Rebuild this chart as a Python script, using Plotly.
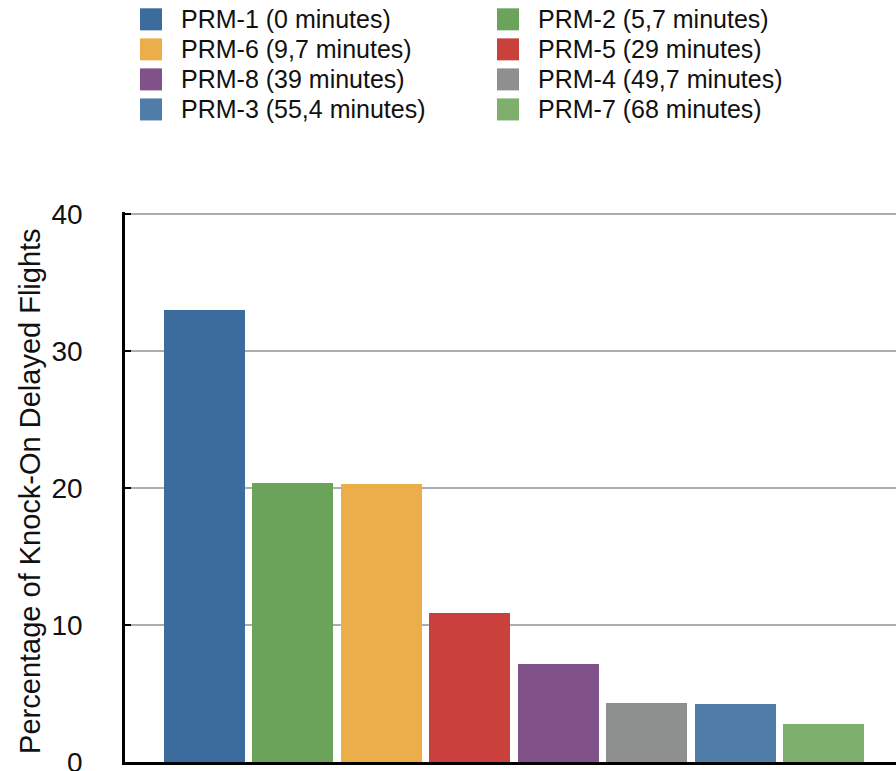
import plotly.graph_objects as go

names = ["PRM-1 (0 minutes)", "PRM-2 (5,7 minutes)", "PRM-6 (9,7 minutes)", "PRM-5 (29 minutes)",
         "PRM-8 (39 minutes)", "PRM-4 (49,7 minutes)", "PRM-3 (55,4 minutes)", "PRM-7 (68 minutes)"]
values = [33.0, 20.35, 20.3, 10.9, 7.15, 4.3, 4.22, 2.78]
colors = ["#3C6B9D", "#6BA35A", "#ECAE4B", "#C9403C", "#81518A", "#8E908F", "#507CA9", "#7FAF6D"]
yticks = [0, 10, 20, 30, 40]

W, H = 896, 771
YMAX = 40.15
PXU = 13.68
L, R, B = 125, 0, 9.2
T = 214.5 - (YMAX - 40) * PXU
pw = W - L - R
ph = H - T - B
FONT = "Liberation Sans, Arial, Helvetica, sans-serif"

fig = go.Figure()
for i, (n, v, c) in enumerate(zip(names, values, colors)):
    fig.add_trace(go.Bar(x=[i], y=[v], name=n, marker=dict(color=c, line=dict(width=0)),
                         width=0.916, showlegend=False))

# manual legend (2 columns, row-wise)
col_x = [140, 497]
row_y = [20, 50, 80, 110]
sq = 22
for i, (n, c) in enumerate(zip(names, colors)):
    cx = col_x[i % 2]
    cy = row_y[i // 2]
    x0 = (cx - L) / pw
    x1 = (cx + sq - L) / pw
    y0 = (H - B - (cy + sq / 2)) / ph
    y1 = (H - B - (cy - sq / 2)) / ph
    fig.add_shape(type="rect", xref="paper", yref="paper", x0=x0, x1=x1, y0=y0, y1=y1,
                  fillcolor=c, line=dict(width=0))
    fig.add_annotation(xref="paper", yref="paper", x=(cx + 39 - L) / pw, y=(H - B - cy) / ph,
                       text=n, showarrow=False, xanchor="left", yanchor="middle",
                       font=dict(family=FONT, size=25, color="#111"))

fig.add_annotation(xref="paper", yref="paper", x=(30 - L) / pw, y=(H - B - 491) / ph,
                   text="Percentage of Knock-On Delayed Flights", textangle=-90, showarrow=False,
                   xanchor="center", yanchor="middle", font=dict(family=FONT, size=29, color="#111"))

fig.update_layout(
    width=W, height=H,
    margin=dict(l=L, r=R, t=T, b=B, autoexpand=False),
    paper_bgcolor="white", plot_bgcolor="white",
    bargap=0,
    xaxis=dict(range=[-0.899, 7.82], showticklabels=False, ticks="", showgrid=False,
               zeroline=False, showline=True, linecolor="#000", linewidth=3),
    yaxis=dict(range=[0, YMAX], tickvals=yticks, ticks="inside", ticklen=6, tickwidth=2,
               tickcolor="#000", showline=True, linecolor="#000", linewidth=2.5,
               showgrid=True, gridcolor="#ADADAD", gridwidth=2, zeroline=False,
               ticklabeloverflow="allow",
               ticklabelstandoff=34, tickfont=dict(family=FONT, size=28, color="#111")),
)

fig.write_html("out.html")
